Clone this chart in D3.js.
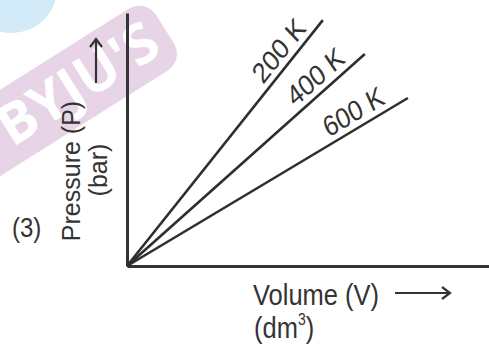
<!DOCTYPE html>
<html>
<head>
<meta charset="utf-8">
<script src="https://cdn.jsdelivr.net/npm/d3@7"></script>
<style>
  html, body { margin: 0; padding: 0; background: #fff; }
  svg { display: block; }
  text { font-family: "Liberation Sans", Arial, sans-serif; fill: #333; }
</style>
</head>
<body>
<svg id="chart" width="489" height="345"></svg>
<script>
// ---- data ----
const temperatures = ["200 K", "400 K", "600 K"];
const volumeEnd = [5.41, 6.57, 7.76];     // V at the end of each isotherm line
const pressureEnd = [9.72, 8.38, 6.64];   // P at the end of each isotherm line
const xDomain = [0, 10];
const yDomain = [0, 10];
const xLabel = "Volume (V)";
const xUnit = ["(dm", "3", ")"];
const yLabel = "Pressure (P)";
const yUnit = "(bar)";
const optionLabel = "(3)";

const svg = d3.select("#chart");
const W = 489, H = 345;
const origin = { x: 127, y: 266 };
const S = 1.15; // vertical stretch of horizontal lettering

const x = d3.scaleLinear().domain(xDomain).range([origin.x, W]);
const y = d3.scaleLinear().domain(yDomain).range([origin.y, 13]);

// ---- watermark ----
const wm = svg.append("g");
wm.append("circle").attr("cx", 12).attr("cy", -12).attr("r", 45).attr("fill", "#d3ebf8");
const band = wm.append("g").attr("transform", "translate(0,133) rotate(-32.2)");
band.append("rect").attr("x", -120).attr("y", -36.5).attr("width", 315).attr("height", 73)
  .attr("rx", 20).attr("fill", "#e7d5e7");
band.append("text").attr("x", 92).attr("y", 19).attr("text-anchor", "middle")
  .style("font-size", "56px").style("font-weight", "bold").style("fill", "#ffffff")
  .style("font-family", "'Open Sans', 'Liberation Sans', sans-serif")
  .text("BYJU'S");

// ---- axes (lines only) ----
const axisColor = "#333";
svg.append("g").attr("transform", `translate(${origin.x},0)`)
  .call(d3.axisLeft(y).tickValues([]).tickSizeOuter(0))
  .call(g => g.select(".domain").attr("stroke", axisColor).attr("stroke-width", 3));
svg.append("g").attr("transform", `translate(0,${origin.y})`)
  .call(d3.axisBottom(x).tickValues([]).tickSizeOuter(0))
  .call(g => g.select(".domain").attr("stroke", axisColor).attr("stroke-width", 3));

// ---- isotherm lines ----
const line = d3.line().x(d => x(d[0])).y(d => y(d[1]));
temperatures.forEach((t, i) => {
  const pts = [[0, 0], [volumeEnd[i], pressureEnd[i]]];
  svg.append("path").attr("d", line(pts)).attr("fill", "none")
    .attr("stroke", "#2e2e2e").attr("stroke-width", 2.6);
  const x0 = x(0), y0 = y(0), x1 = x(volumeEnd[i]), y1 = y(pressureEnd[i]);
  const ang = Math.atan2((y1 - y0) / S, x1 - x0) * 180 / Math.PI;
  const f = 0.83;
  const lx = x0 + (x1 - x0) * f, ly = y0 + (y1 - y0) * f;
  svg.append("text")
    .attr("transform", `translate(${lx},${ly}) scale(1,${S}) rotate(${ang})`)
    .attr("text-anchor", "middle").attr("dy", -6)
    .style("font-size", "25px").text(t);
});

// ---- axis titles ----
const fs = "25.5px";
svg.append("text").attr("transform", `translate(253,305) scale(1,${S})`)
  .style("font-size", fs).text(xLabel);
const xu = svg.append("text").attr("transform", `translate(254,338) scale(1,${S})`)
  .style("font-size", fs);
xu.append("tspan").text(xUnit[0]);
xu.append("tspan").attr("dy", -11).style("font-size", "14px").text(xUnit[1]);
xu.append("tspan").attr("dy", 11).text(xUnit[2]);

svg.append("text").attr("transform", "translate(80,171) rotate(-90)")
  .attr("text-anchor", "middle").style("font-size", "25px").text(yLabel);
svg.append("text").attr("transform", "translate(107,170) rotate(-90)")
  .attr("text-anchor", "middle").style("font-size", "25px").text(yUnit);

svg.append("text").attr("transform", `translate(12,237) scale(1,${S})`)
  .style("font-size", "24px").text(optionLabel);

// ---- arrows ----
const arr = svg.append("g").attr("stroke", "#333").attr("stroke-width", 2.2).attr("fill", "none");
arr.append("line").attr("x1", 96).attr("y1", 83).attr("x2", 96).attr("y2", 39);
arr.append("polyline").attr("points", "90,47 96,39 102,47");
arr.append("line").attr("x1", 395).attr("y1", 293).attr("x2", 450).attr("y2", 293);
arr.append("polyline").attr("points", "442,287 450,293 442,299");
</script>
</body>
</html>
